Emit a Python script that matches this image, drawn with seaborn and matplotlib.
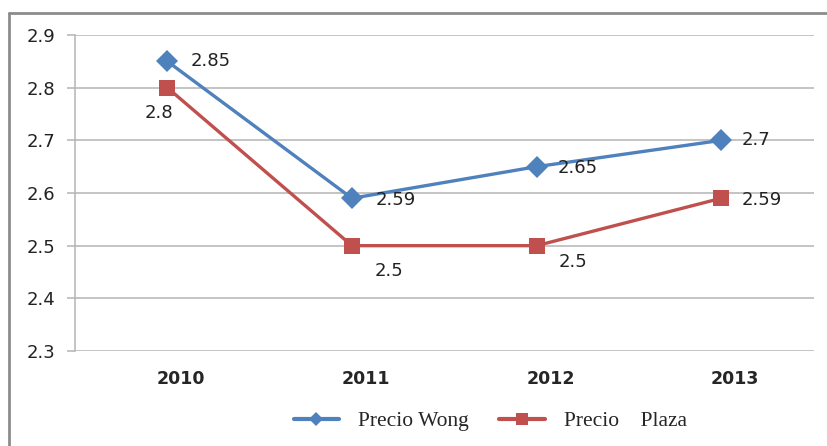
import numpy as np
import pandas as pd
import matplotlib
matplotlib.use('Agg')
import matplotlib.pyplot as plt
import matplotlib.transforms as mtransforms
from matplotlib.lines import Line2D
import seaborn as sns

# Data
years = ['2010', '2011', '2012', '2013']
precio_wong = [2.85, 2.59, 2.65, 2.7]
precio_plaza = [2.8, 2.5, 2.5, 2.59]
series_names = ['Precio Wong', 'Precio    Plaza']

df = pd.DataFrame({'year': years * 2,
                   'precio': precio_wong + precio_plaza,
                   'serie': [series_names[0]] * 4 + [series_names[1]] * 4})

blue = '#4f81bd'
red = '#c0504d'
grid_col = '#b4b4b4'

sns.set_style('white')
plt.rcParams['font.family'] = ['DejaVu Sans']

fig = plt.figure(figsize=(8.27, 4.46), dpi=100)
ax = fig.add_axes([0.0907, 0.213, 0.893, 0.7085])

sns.lineplot(ax=ax, data=df, x='year', y='precio', hue='serie', style='serie',
             palette=[blue, red], markers=['D', 's'], dashes=False,
             linewidth=2.4, markersize=11, markeredgewidth=0, legend=False,
             sort=False)

ax.set_xlim(-0.5, 3.5)
ax.set_ylim(2.3, 2.9)
ax.set_yticks(np.arange(2.3, 2.91, 0.1))
ax.set_yticklabels(['%.1f' % v for v in np.arange(2.3, 2.91, 0.1)])
ax.yaxis.grid(True, color=grid_col, linewidth=1.1)
ax.set_axisbelow(True)
for s in ['top', 'right', 'bottom']:
    ax.spines[s].set_visible(False)
ax.spines['left'].set_color(grid_col)
ax.spines['left'].set_linewidth(1.1)
ax.tick_params(axis='y', direction='out', length=6, width=1.1, color=grid_col,
               pad=8, labelsize=13, labelcolor='#222222', left=True)
ax.tick_params(axis='x', length=0, pad=14, labelsize=12.5)
shift = mtransforms.ScaledTranslation(14 / 100, 0, fig.dpi_scale_trans)
for lbl in ax.get_xticklabels():
    lbl.set_fontweight('bold')
    lbl.set_transform(lbl.get_transform() + shift)
ax.set_xlabel('')
ax.set_ylabel('')

# Data labels (offsets in points)
wong_off = [(17, 0), (17, -1), (15, -1), (15, 0)]
plaza_off = [(-6, -18), (27, -18), (26, -12), (15, -1)]
for i, v in enumerate(precio_wong):
    ax.annotate('%g' % v, (i, v), xytext=wong_off[i], textcoords='offset points',
                ha='left', va='center', fontsize=13, color='#222222')
for i, v in enumerate(precio_plaza):
    ha = 'left' if plaza_off[i][1] > -5 else 'center'
    ax.annotate('%g' % v, (i, v), xytext=plaza_off[i], textcoords='offset points',
                ha=ha, va='center', fontsize=13, color='#222222')

# Outer chart frame (left and top edges)
fig.add_artist(Line2D([0.011, 0.011], [0, 0.971], transform=fig.transFigure,
                      color='#8c8c8c', linewidth=2))
fig.add_artist(Line2D([0.011, 1.0], [0.971, 0.971], transform=fig.transFigure,
                      color='#8c8c8c', linewidth=2))

# Legend
handles = [Line2D([], [], color=blue, marker='D', markersize=7, linewidth=3, markeredgewidth=0),
           Line2D([], [], color=red, marker='s', markersize=8, linewidth=3, markeredgewidth=0)]
fig.legend(handles, series_names, loc='center', bbox_to_anchor=(0.593, 0.056),
           ncol=2, frameon=False, handlelength=2.1, handletextpad=0.9, columnspacing=1.4,
           prop={'family': 'Liberation Serif', 'size': 15.5})

fig.savefig('out.png', dpi=100)
